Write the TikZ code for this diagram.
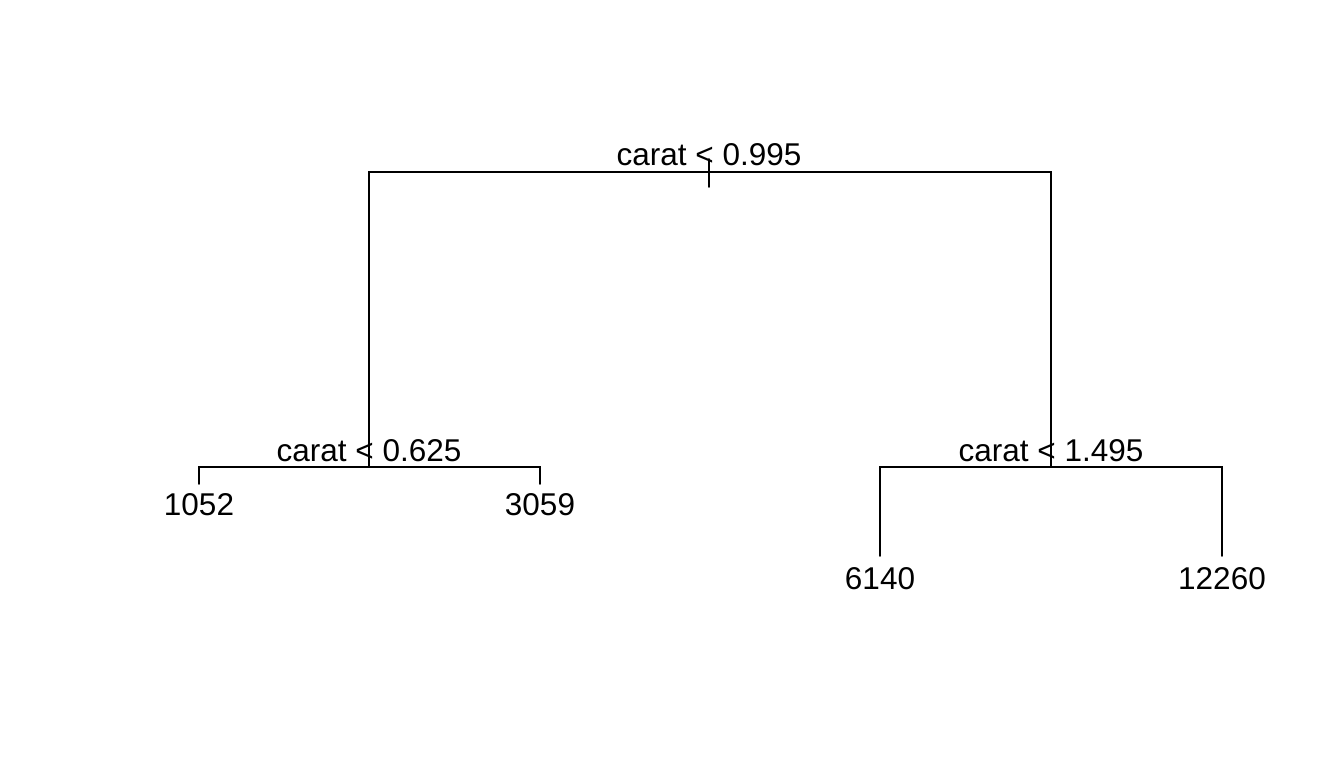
\documentclass[tikz,border=0pt]{standalone}
\usepackage{fontspec}
\setmainfont{Liberation Sans}
\begin{document}
\begin{tikzpicture}[x=1pt,y=-1pt,
  edge/.style={draw=black,line width=1.6pt,line cap=round,line join=miter},
  split/.style={font=\fontsize{31.5}{36}\selectfont,anchor=base,inner sep=0pt},
  leaf/.style={font=\fontsize{31.5}{36}\selectfont,anchor=base,inner sep=0pt}]
\useasboundingbox[fill=white] (0,0) rectangle (1344,768);
% joints
\coordinate (root) at (709,172);
\coordinate (rootup) at (709,159);
\coordinate (rootdn) at (709,187);
\coordinate (rl) at (369,172);
\coordinate (rr) at (1051,172);
\coordinate (n2) at (369,467);
\coordinate (n3) at (1051,467);
\coordinate (n2l) at (199,467);
\coordinate (n2r) at (540,467);
\coordinate (n3l) at (880,467);
\coordinate (n3r) at (1222,467);
\coordinate (l1) at (199,484);
\coordinate (l2) at (540,484);
\coordinate (l3) at (880,556);
\coordinate (l4) at (1222,556);
% connectors
\draw[edge] (rootup) -- (rootdn);
\draw[edge] (n2) -- (rl) -- (rr) -- (n3);
\draw[edge] (l1) -- (n2l) -- (n2r) -- (l2);
\draw[edge] (l3) -- (n3l) -- (n3r) -- (l4);
% labels
\node[split] (s1) at (709,165) {carat < 0.995};
\node[split] (s2) at (369,461) {carat < 0.625};
\node[split] (s3) at (1051,461) {carat < 1.495};
\node[leaf] (t1) at (199,515) {1052};
\node[leaf] (t2) at (540,515) {3059};
\node[leaf] (t3) at (880,589) {6140};
\node[leaf] (t4) at (1222,589) {12260};
\end{tikzpicture}
\end{document}
